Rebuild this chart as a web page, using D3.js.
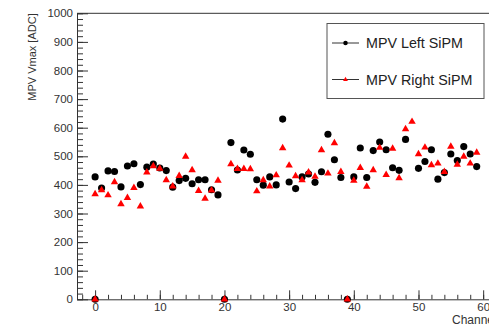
<!DOCTYPE html>
<html>
<head>
<meta charset="utf-8">
<script src="https://cdn.jsdelivr.net/npm/d3@7"></script>
<style>
  body { margin: 0; background: #fff; }
  svg { display: block; font-family: "Liberation Sans", Arial, sans-serif; }
</style>
</head>
<body>
<svg id="chart" width="489" height="326"></svg>
<script>
// channel numbers 0..59
const channels = d3.range(60);

// MPV of Vmax per channel [ADC], left SiPM (null = no point)
const mpvLeft = [
  428, 389, 449, 447, 393, 466, 474, 401, 462, 473,
  459, 450, 392, 415, 423, 404, 418, 418, 383, 365,
  0, 548, 452, 522, 507, 418, 399, 428, 400, 630,
  410, 387, 428, 438, 409, 446, 577, 488, 426, 0,
  428, 529, 426, 520, 550, 523, 460, 451, 559, null,
  458, 482, 523, 420, 443, 508, 485, 534, 508, 464
];

// right SiPM
const mpvRight = [
  368, 382, 364, 410, 333, 355, 390, 325, 444, 466,
  457, 417, 395, 432, 499, 452, 379, 352, 381, 415,
  0, 473, 456, 456, 455, 378, 417, 395, 434, 529,
  468, 431, 417, 444, 429, 522, 440, 546, 446, 0,
  415, 460, 394, 452, 530, 435, 527, 424, 595, 621,
  508, 531, 469, 475, 446, 534, 471, 499, 475, 513
];

// extra empty points sitting at (0, 0)
const extraX = [0];
const extraY = [0];

const yTicks = d3.range(0, 1001, 100);
const xTicks = d3.range(0, 61, 10);

const svg = d3.select("#chart");

const x = d3.scaleLinear().domain([-2.8, 63.5]).range([77, 505.8]);
const y = d3.scaleLinear().domain([0, 1000]).range([299.3, 13.3]);

const axisColor = "#333";

// frame top line
svg.append("line")
  .attr("x1", x.range()[0]).attr("x2", x.range()[1])
  .attr("y1", y(1000)).attr("y2", y(1000))
  .attr("stroke", axisColor).attr("stroke-width", 1);

// y axis: minor then major ticks, pointing inside
svg.append("g")
  .attr("transform", `translate(${x.range()[0]},0)`)
  .call(d3.axisLeft(y).tickValues(d3.range(0, 1001, 20)).tickSize(-6).tickSizeOuter(0).tickFormat(""))
  .call(g => g.select(".domain").remove())
  .selectAll("line").attr("stroke", axisColor);

const yAxis = svg.append("g")
  .attr("transform", `translate(${x.range()[0]},0)`)
  .call(d3.axisLeft(y).tickValues(yTicks).tickSize(-11).tickSizeOuter(0).tickPadding(4).tickFormat(d3.format("d")));
yAxis.select(".domain").attr("stroke", axisColor);
yAxis.selectAll("line").attr("stroke", axisColor);
yAxis.selectAll("text").attr("font-size", 11.5).attr("fill", axisColor)
  .attr("font-family", "Liberation Sans, Arial, sans-serif");

// x axis
svg.append("g")
  .attr("transform", `translate(0,${y(0)})`)
  .call(d3.axisBottom(x).tickValues(d3.range(-2, 64, 2)).tickSize(-4.5).tickSizeOuter(0).tickFormat(""))
  .call(g => g.select(".domain").remove())
  .selectAll("line").attr("stroke", axisColor);

const xAxis = svg.append("g")
  .attr("transform", `translate(0,${y(0)})`)
  .call(d3.axisBottom(x).tickValues(xTicks).tickSize(-9).tickSizeOuter(0).tickPadding(4).tickFormat(d3.format("d")));
xAxis.select(".domain").attr("stroke", axisColor);
xAxis.selectAll("line").attr("stroke", axisColor);
xAxis.selectAll("text").attr("font-size", 11.5).attr("fill", axisColor)
  .attr("font-family", "Liberation Sans, Arial, sans-serif");

// axis titles
svg.append("text")
  .attr("transform", `translate(36,${y(1000)}) rotate(-90)`)
  .attr("text-anchor", "end")
  .attr("font-size", 11)
  .attr("fill", axisColor)
  .text("MPV Vmax [ADC]");

// title runs past the right edge, as in the original plot
svg.append("text")
  .attr("x", 452).attr("y", 324)
  .attr("font-size", 12)
  .attr("fill", axisColor)
  .text("Channel");

// points
const circle = d3.symbol().type(d3.symbolCircle).size(40);
const tri = d3.symbol().type(d3.symbolTriangle).size(24);

const leftPts = channels.map((c, i) => ({ c, v: mpvLeft[i] })).filter(d => d.v !== null)
  .concat(extraX.map((c, i) => ({ c, v: extraY[i] })));
const rightPts = channels.map((c, i) => ({ c, v: mpvRight[i] })).filter(d => d.v !== null)
  .concat(extraX.map((c, i) => ({ c, v: extraY[i] })));

svg.append("g").selectAll("path")
  .data(leftPts)
  .enter().append("path")
  .attr("d", circle)
  .attr("transform", d => `translate(${x(d.c)},${y(d.v)})`)
  .attr("fill", "#000");

svg.append("g").selectAll("path")
  .data(rightPts)
  .enter().append("path")
  .attr("d", tri)
  .attr("transform", d => `translate(${x(d.c)},${y(d.v)})`)
  .attr("fill", "#f00");

// legend
const legend = svg.append("g");
legend.append("rect")
  .attr("x", 327).attr("y", 23.5).attr("width", 157).attr("height", 75)
  .attr("fill", "#fff").attr("stroke", "#555").attr("stroke-width", 1);

const entries = [
  { label: "MPV Left SiPM", sym: d3.symbol().type(d3.symbolCircle).size(16), color: "#000", cy: 43 },
  { label: "MPV Right SiPM", sym: d3.symbol().type(d3.symbolTriangle).size(10), color: "#f00", cy: 79.5 }
];

entries.forEach(e => {
  legend.append("line")
    .attr("x1", 332).attr("x2", 359).attr("y1", e.cy).attr("y2", e.cy)
    .attr("stroke", "#333").attr("stroke-width", 1);
  legend.append("path")
    .attr("d", e.sym())
    .attr("transform", `translate(345.5,${e.cy})`)
    .attr("fill", e.color);
  legend.append("text")
    .attr("x", 366).attr("y", e.cy + 5)
    .attr("font-size", 14.3)
    .attr("fill", "#222")
    .text(e.label);
});
</script>
</body>
</html>
